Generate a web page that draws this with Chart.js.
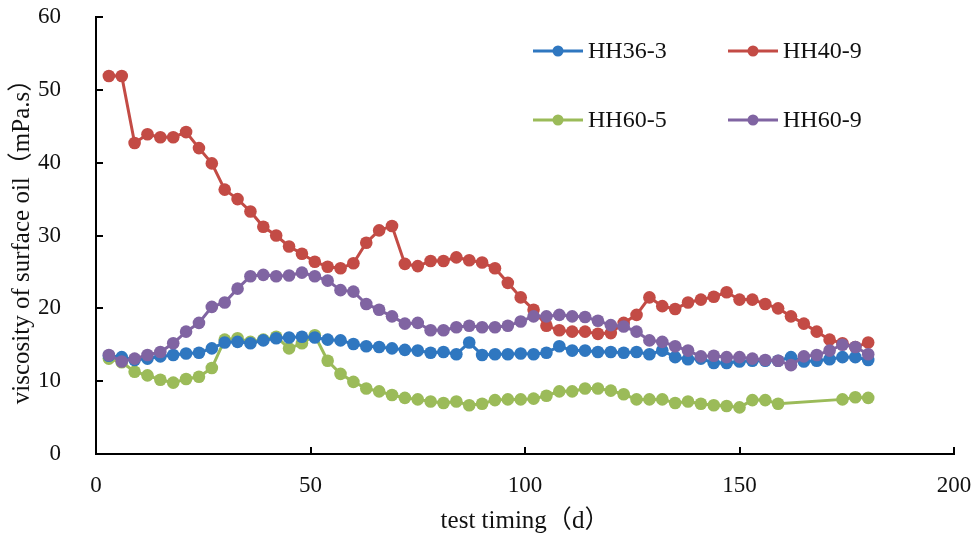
<!DOCTYPE html>
<html>
<head>
<meta charset="utf-8">
<script src="https://cdn.jsdelivr.net/npm/chart.js@4"></script>
<style>
  html, body { margin: 0; padding: 0; background: #fff; }
  #wrap { width: 977px; height: 536px; }
</style>
</head>
<body>
<div id="wrap"><canvas id="chart" width="977" height="536"></canvas></div>
<script>
// test timing (d)
const days = [3, 6, 9, 12, 15, 18, 21, 24, 27, 30, 33, 36, 39, 42, 45, 48, 51, 54, 57, 60,
  63, 66, 69, 72, 75, 78, 81, 84, 87, 90, 93, 96, 99, 102, 105, 108, 111, 114, 117, 120,
  123, 126, 129, 132, 135, 138, 141, 144, 147, 150, 153, 156, 159, 162, 165, 168, 171, 174, 177, 180];

// viscosity of surface oil (mPa.s), one list per well
const hh363 = [13.5, 13.3, 12.9, 13.1, 13.4, 13.6, 13.8, 13.9, 14.5, 15.3,
  15.4, 15.2, 15.6, 15.9, 16.0, 16.1, 16.0, 15.7, 15.6, 15.1,
  14.8, 14.7, 14.5, 14.3, 14.2, 13.9, 14.0, 13.7, 15.3, 13.6,
  13.7, 13.7, 13.8, 13.7, 13.9, 14.8, 14.2, 14.2, 14.0, 14.0,
  13.9, 14.0, 13.7, 14.2, 13.3, 13.0, 13.1, 12.5, 12.5, 12.7,
  12.8, 12.8, 12.8, 13.3, 12.7, 12.8, 13.0, 13.3, 13.3, 12.9];
const hh409 = [51.9, 51.9, 42.7, 43.9, 43.5, 43.5, 44.2, 42.0, 39.9, 36.3,
  35.0, 33.3, 31.2, 30.0, 28.5, 27.5, 26.4, 25.7, 25.5, 26.2,
  29.0, 30.7, 31.3, 26.1, 25.8, 26.5, 26.5, 27.0, 26.6, 26.3,
  25.5, 23.5, 21.5, 19.8, 17.6, 17.0, 16.8, 16.8, 16.5, 16.6,
  18.0, 19.1, 21.5, 20.3, 19.9, 20.8, 21.2, 21.6, 22.2, 21.2,
  21.2, 20.6, 20.0, 18.9, 17.9, 16.8, 15.7, 15.2, 14.7, 15.3];
const hh605 = [13.1, 12.6, 11.3, 10.8, 10.2, 9.8, 10.3, 10.6, 11.8, 15.7,
  15.9, 15.4, 15.7, 16.1, 14.5, 15.2, 16.3, 12.8, 11.0, 9.9,
  9.0, 8.6, 8.1, 7.7, 7.5, 7.2, 7.0, 7.2, 6.7, 6.9,
  7.4, 7.5, 7.5, 7.6, 8.0, 8.6, 8.6, 9.0, 9.0, 8.7,
  8.2, 7.5, 7.5, 7.5, 7.0, 7.2, 6.9, 6.7, 6.6, 6.4,
  7.4, 7.4, 6.9, null, null, null, null, 7.5, 7.8, 7.7];
const hh609 = [13.6, 12.7, 13.1, 13.6, 14.0, 15.2, 16.8, 18.0, 20.2, 20.8,
  22.7, 24.4, 24.6, 24.4, 24.5, 24.9, 24.4, 23.8, 22.5, 22.3,
  20.6, 19.8, 18.9, 17.9, 18.0, 17.0, 17.0, 17.4, 17.6, 17.4,
  17.4, 17.6, 18.2, 18.9, 18.9, 19.1, 18.9, 18.8, 18.3, 17.7,
  17.5, 16.8, 15.6, 15.4, 14.8, 14.2, 13.4, 13.5, 13.3, 13.3,
  13.1, 12.9, 12.8, 12.2, 13.4, 13.6, 14.2, 15.0, 14.7, 13.7];

const wells = ['HH36-3', 'HH40-9', 'HH60-5', 'HH60-9'];
const colors = ['#2F77C0', '#C34B45', '#9BBB59', '#8064A2'];
const series = [hh363, hh409, hh605, hh609];
const drawOrder = [2, 3, 4, 1]; // purple on top, green at the back

const serif = "'Liberation Serif', 'Times New Roman', 'Noto Sans CJK SC', serif";
const ink = '#111';

const datasets = series.map((vals, i) => ({
  label: wells[i],
  data: days.map((d, j) => ({ x: d, y: vals[j] })),
  borderColor: colors[i],
  backgroundColor: colors[i],
  borderWidth: 3,
  pointRadius: 6.3,
  pointBorderWidth: 0,
  pointBackgroundColor: colors[i],
  spanGaps: true,
  order: drawOrder[i]
}));

// small tick marks pointing into the plot
const innerTicks = {
  id: 'innerTicks',
  afterDraw(chart) {
    const { ctx, chartArea, scales } = chart;
    ctx.save();
    ctx.strokeStyle = '#000';
    ctx.lineWidth = 2;
    ctx.beginPath();
    scales.y.ticks.forEach(t => {
      const y = Math.round(scales.y.getPixelForValue(t.value));
      ctx.moveTo(chartArea.left, y);
      ctx.lineTo(chartArea.left + 7, y);
    });
    scales.x.ticks.forEach(t => {
      const x = Math.round(scales.x.getPixelForValue(t.value));
      ctx.moveTo(x, chartArea.bottom);
      ctx.lineTo(x, chartArea.bottom - 7);
    });
    ctx.stroke();
    ctx.restore();
  }
};

// two-by-two legend in the upper right of the plot
const gridLegend = {
  id: 'gridLegend',
  afterDraw(chart) {
    const { ctx } = chart;
    const spots = [[533, 51], [728, 51], [533, 120], [728, 120]];
    ctx.save();
    ctx.font = '24px ' + serif;
    ctx.textBaseline = 'middle';
    chart.data.datasets.forEach((ds, i) => {
      const [x, y] = spots[i];
      ctx.strokeStyle = ds.borderColor;
      ctx.lineWidth = 3;
      ctx.beginPath();
      ctx.moveTo(x, y);
      ctx.lineTo(x + 50, y);
      ctx.stroke();
      ctx.fillStyle = ds.borderColor;
      ctx.beginPath();
      ctx.arc(x + 25, y, 5.5, 0, Math.PI * 2);
      ctx.fill();
      ctx.fillStyle = ink;
      ctx.fillText(ds.label, x + 55, y + 1);
    });
    ctx.restore();
  }
};

const ctx = document.getElementById('chart').getContext('2d');
new Chart(ctx, {
  type: 'line',
  data: { datasets },
  options: {
    responsive: false,
    animation: false,
    layout: { padding: { top: 17, right: 23, left: 0, bottom: 0 } },
    plugins: {
      legend: { display: false },
      tooltip: { enabled: false }
    },
    scales: {
      x: {
        type: 'linear',
        min: 0,
        max: 200,
        afterFit: s => { s.height = 82; s.paddingLeft = 0; s.paddingRight = 0; },
        grid: { display: false },
        border: { display: true, color: '#000', width: 2 },
        ticks: { stepSize: 50, padding: 10, color: ink, font: { family: serif, size: 23 } },
        title: {
          display: true,
          text: 'test timing（d）',
          color: ink,
          font: { family: serif, size: 25 },
          padding: { top: 0, bottom: 0 }
        }
      },
      y: {
        min: 0,
        max: 60,
        afterFit: s => { s.width = 96; s.paddingTop = 0; s.paddingBottom = 0; },
        grid: { display: false },
        border: { display: true, color: '#000', width: 2 },
        ticks: { stepSize: 10, padding: 27, color: ink, font: { family: serif, size: 23 } },
        title: {
          display: true,
          text: 'viscosity of surface oil（mPa.s）',
          color: ink,
          font: { family: serif, size: 25 },
          padding: { top: 7, bottom: 0 }
        }
      }
    }
  },
  plugins: [innerTicks, gridLegend]
});
</script>
</body>
</html>
